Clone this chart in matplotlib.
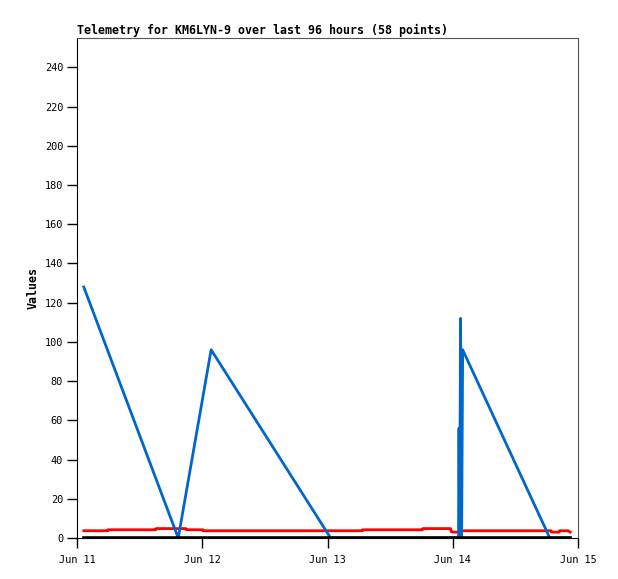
import matplotlib.pyplot as plt

# hours since Jun 11 00:00
red_t = [1.3, 5.9, 5.95, 15.1, 15.15, 20.9, 20.95, 24.1, 24.15, 54.7, 54.75, 66.2, 66.25,
         71.6, 71.7, 72.0, 73.1, 73.2, 90.8, 90.9, 92.4, 92.5, 94.1, 94.5]
red_v = [3.7, 3.7, 4.2, 4.2, 4.8, 4.8, 4.2, 4.2, 3.7, 3.7, 4.2, 4.2, 4.8,
         4.8, 3.3, 3.0, 3.0, 3.7, 3.7, 3.0, 3.0, 3.7, 3.7, 3.0]

blue_t = [1.3, 19.4, 25.7, 48.6, 73.1, 73.2, 73.3, 73.5, 73.7, 73.9, 90.6, 94.5]
blue_v = [128, 0, 96, 0, 0, 56, 0, 112, 0, 96, 0, 0]

black_t = [1.3, 94.5]
black_v = [0, 0]

tick_hours = [0, 24, 48, 72, 96]
tick_labels = ["Jun 11", "Jun 12", "Jun 13", "Jun 14", "Jun 15"]
y_ticks = list(range(0, 241, 20))

fig = plt.figure(figsize=(6.18, 5.79), dpi=100)
ax = fig.add_axes([77 / 618, 41 / 579, 501 / 618, 500 / 579])

ax.plot(red_t, red_v, color="#ff0000", lw=2.0, zorder=2)
ax.plot(blue_t, blue_v, color="#0066cc", lw=2.0, zorder=3)
ax.plot(black_t, black_v, color="#000000", lw=2.6, zorder=4)

ax.set_xlim(0, 96)
ax.set_ylim(0, 255)
ax.set_xticks(tick_hours)
ax.set_xticklabels(tick_labels, family="DejaVu Sans Mono", fontsize=7.4)
ax.set_yticks(y_ticks)
ax.set_yticklabels([str(v) for v in y_ticks], family="DejaVu Sans Mono", fontsize=7.4)
ax.tick_params(axis="y", length=7, width=1, pad=3)
ax.tick_params(axis="x", length=7, width=1, pad=5)

for side in ["top", "right"]:
    ax.spines[side].set_color("#555555")
ax.spines["left"].set_color("#000000")
ax.spines["bottom"].set_color("#000000")

ax.set_ylabel("Values", family="DejaVu Sans Mono", fontweight="bold", fontsize=8.4, labelpad=4)
ax.set_title("Telemetry for KM6LYN-9 over last 96 hours (58 points)", loc="left",
             family="DejaVu Sans Mono", fontweight="bold", fontsize=8.4, pad=3)

fig.savefig("out.png", dpi=100)
